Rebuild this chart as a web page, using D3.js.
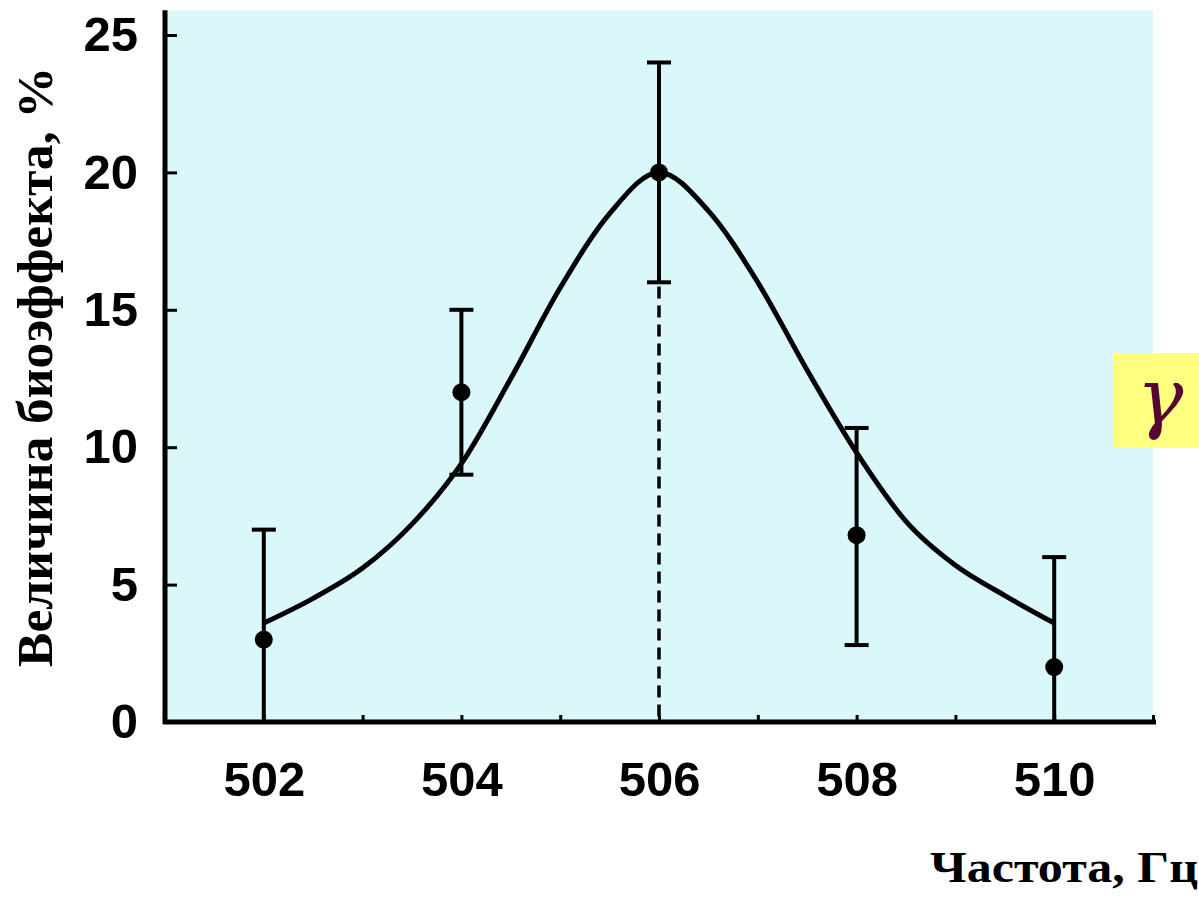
<!DOCTYPE html>
<html>
<head>
<meta charset="utf-8">
<script src="https://cdn.jsdelivr.net/npm/d3@7"></script>
<style>
  html, body { margin: 0; padding: 0; background: #ffffff; }
  svg { display: block; }
</style>
</head>
<body>
<svg id="chart" width="1199" height="902"></svg>
<script>
// Measured points: frequency (Hz) and effect size (%) with error range
const freqs = [502, 504, 506, 508, 510];
const effect = [3.0, 12.0, 20.0, 6.8, 2.0];
const errLow = [0, 9.0, 16.0, 2.8, 0];
const errHigh = [7.0, 15.0, 24.0, 10.7, 6.0];

// Resonance curve drawn through the data
const curveFreq = [502, 502.5, 503, 503.5, 504, 504.5, 505, 505.5, 506, 506.5, 507, 507.5, 508, 508.5, 509, 509.5, 510];
const curveVal  = [3.6, 4.5, 5.6, 7.2, 9.4, 12.5, 15.8, 18.5, 20.0, 18.6, 16.0, 12.8, 9.8, 7.3, 5.7, 4.6, 3.6];

// Axis ticks
const xTicks = [501, 502, 503, 504, 505, 506, 507, 508, 509, 510, 511];
const xLabels = [502, 504, 506, 508, 510];
const yTicks = [0, 5, 10, 15, 20, 25];

const peakFreq = 506;
const peakVal = 20;

const svg = d3.select("#chart");

const x = d3.scaleLinear().domain([501, 511]).range([165, 1153]);
const y = d3.scaleLinear().domain([0, 25]).range([722, 35]);

// Plot background
svg.append("rect")
  .attr("x", x(501))
  .attr("y", y(25.9))
  .attr("width", x(511) - x(501))
  .attr("height", y(0) - y(25.9))
  .attr("fill", "#daf7f9");

// Y axis
const yAxis = d3.axisLeft(y)
  .tickValues(yTicks)
  .tickSizeInner(-12)
  .tickSizeOuter(0)
  .tickPadding(27)
  .tickFormat(d3.format("d"));

const gy = svg.append("g")
  .attr("transform", `translate(${x(501)},0)`)
  .call(yAxis);
gy.select(".domain").remove();
gy.selectAll(".tick line").attr("stroke", "#000").attr("stroke-width", 3);
gy.selectAll(".tick text")
  .attr("fill", "#000")
  .style("font-family", "'Liberation Sans', Arial, sans-serif")
  .style("font-weight", "bold")
  .style("font-size", "49px");

// X axis
const xAxis = d3.axisBottom(x)
  .tickValues(xTicks)
  .tickSizeInner(-7)
  .tickSizeOuter(0)
  .tickPadding(39)
  .tickFormat(d => xLabels.includes(d) ? String(d) : "");

const gx = svg.append("g")
  .attr("transform", `translate(0,${y(0)})`)
  .call(xAxis);
gx.select(".domain").remove();
gx.selectAll(".tick line").attr("stroke", "#000").attr("stroke-width", 3);
gx.selectAll(".tick text")
  .attr("fill", "#000")
  .style("font-family", "'Liberation Sans', Arial, sans-serif")
  .style("font-weight", "bold")
  .style("font-size", "49px");

// Axis lines
svg.append("line")
  .attr("x1", x(501)).attr("x2", x(501))
  .attr("y1", y(0) + 2).attr("y2", y(25.9))
  .attr("stroke", "#000").attr("stroke-width", 5);
svg.append("line")
  .attr("x1", x(501) - 2).attr("x2", x(511) + 3)
  .attr("y1", y(0)).attr("y2", y(0))
  .attr("stroke", "#000").attr("stroke-width", 5);

// Dashed drop line from the peak
svg.append("line")
  .attr("x1", x(peakFreq)).attr("x2", x(peakFreq))
  .attr("y1", y(peakVal)).attr("y2", y(0))
  .attr("stroke", "#000")
  .attr("stroke-width", 3.5)
  .attr("stroke-dasharray", "12,7");

// Fitted curve
const line = d3.line()
  .x((d, i) => x(curveFreq[i]))
  .y(d => y(d))
  .curve(d3.curveMonotoneX);

svg.append("path")
  .datum(curveVal)
  .attr("d", line)
  .attr("fill", "none")
  .attr("stroke", "#000")
  .attr("stroke-width", 5)
  .attr("stroke-linejoin", "round");

// Error bars
const capW = 12;
const bars = svg.append("g");
freqs.forEach((f, i) => {
  bars.append("line")
    .attr("x1", x(f)).attr("x2", x(f))
    .attr("y1", y(errLow[i])).attr("y2", y(errHigh[i]))
    .attr("stroke", "#000").attr("stroke-width", 4);
  bars.append("line")
    .attr("x1", x(f) - capW).attr("x2", x(f) + capW)
    .attr("y1", y(errHigh[i])).attr("y2", y(errHigh[i]))
    .attr("stroke", "#000").attr("stroke-width", 4);
  if (errLow[i] > 0) {
    bars.append("line")
      .attr("x1", x(f) - capW).attr("x2", x(f) + capW)
      .attr("y1", y(errLow[i])).attr("y2", y(errLow[i]))
      .attr("stroke", "#000").attr("stroke-width", 4);
  }
});

// Data points
svg.append("g")
  .selectAll("circle")
  .data(effect)
  .join("circle")
  .attr("cx", (d, i) => x(freqs[i]))
  .attr("cy", d => y(d))
  .attr("r", 9)
  .attr("fill", "#000");

// Axis titles
svg.append("text")
  .attr("transform", "translate(52,667) rotate(-90)")
  .attr("x", 0).attr("y", 0)
  .attr("text-anchor", "start")
  .attr("textLength", 600)
  .attr("lengthAdjust", "spacingAndGlyphs")
  .style("font-family", "'Liberation Serif', 'Times New Roman', serif")
  .style("font-weight", "bold")
  .style("font-size", "50px")
  .attr("fill", "#000")
  .text("Величина биоэффекта, %");

svg.append("text")
  .attr("x", 930).attr("y", 882)
  .attr("text-anchor", "start")
  .attr("textLength", 268)
  .attr("lengthAdjust", "spacingAndGlyphs")
  .style("font-family", "'Liberation Serif', 'Times New Roman', serif")
  .style("font-weight", "bold")
  .style("font-size", "44px")
  .attr("fill", "#000")
  .text("Частота, Гц");

// Gamma marker
svg.append("rect")
  .attr("x", 1113).attr("y", 353)
  .attr("width", 86).attr("height", 95)
  .attr("fill", "#ffff80");
svg.append("text")
  .attr("x", 1160).attr("y", 424)
  .attr("text-anchor", "middle")
  .style("font-family", "'DejaVu Serif', 'Liberation Serif', serif")
  .style("font-style", "italic")
  .style("font-size", "78px")
  .attr("fill", "#550632")
  .text("γ");
</script>
</body>
</html>
